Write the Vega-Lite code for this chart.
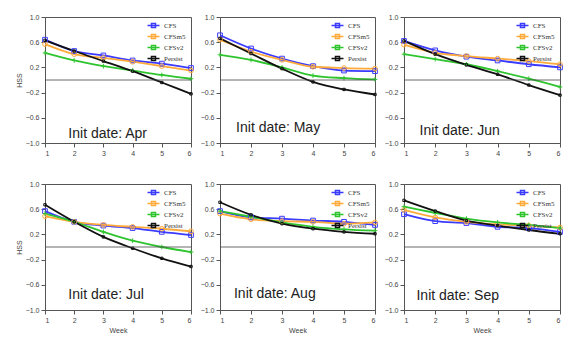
{
  "$schema": "https://vega.github.io/schema/vega-lite/v6.json",
  "padding": {"left": 14, "top": 12, "right": 5, "bottom": 5},
  "background": "white",
  "datasets": {
    "hss": [
      {"month":"Apr","model":"CFS","week":1,"hss":0.64},{"month":"Apr","model":"CFS","week":2,"hss":0.46},{"month":"Apr","model":"CFS","week":3,"hss":0.39},{"month":"Apr","model":"CFS","week":4,"hss":0.31},{"month":"Apr","model":"CFS","week":5,"hss":0.26},{"month":"Apr","model":"CFS","week":6,"hss":0.19},
      {"month":"Apr","model":"CFSm5","week":1,"hss":0.57},{"month":"Apr","model":"CFSm5","week":2,"hss":0.41},{"month":"Apr","model":"CFSm5","week":3,"hss":0.35},{"month":"Apr","model":"CFSm5","week":4,"hss":0.29},{"month":"Apr","model":"CFSm5","week":5,"hss":0.22},{"month":"Apr","model":"CFSm5","week":6,"hss":0.15},
      {"month":"Apr","model":"CFSv2","week":1,"hss":0.43},{"month":"Apr","model":"CFSv2","week":2,"hss":0.31},{"month":"Apr","model":"CFSv2","week":3,"hss":0.22},{"month":"Apr","model":"CFSv2","week":4,"hss":0.15},{"month":"Apr","model":"CFSv2","week":5,"hss":0.08},{"month":"Apr","model":"CFSv2","week":6,"hss":0.02},
      {"month":"Apr","model":"Persist","week":1,"hss":0.63},{"month":"Apr","model":"Persist","week":2,"hss":0.46},{"month":"Apr","model":"Persist","week":3,"hss":0.30},{"month":"Apr","model":"Persist","week":4,"hss":0.14},{"month":"Apr","model":"Persist","week":5,"hss":-0.04},{"month":"Apr","model":"Persist","week":6,"hss":-0.22},
      {"month":"May","model":"CFS","week":1,"hss":0.71},{"month":"May","model":"CFS","week":2,"hss":0.50},{"month":"May","model":"CFS","week":3,"hss":0.34},{"month":"May","model":"CFS","week":4,"hss":0.22},{"month":"May","model":"CFS","week":5,"hss":0.15},{"month":"May","model":"CFS","week":6,"hss":0.14},
      {"month":"May","model":"CFSm5","week":1,"hss":0.64},{"month":"May","model":"CFSm5","week":2,"hss":0.45},{"month":"May","model":"CFSm5","week":3,"hss":0.32},{"month":"May","model":"CFSm5","week":4,"hss":0.21},{"month":"May","model":"CFSm5","week":5,"hss":0.19},{"month":"May","model":"CFSm5","week":6,"hss":0.18},
      {"month":"May","model":"CFSv2","week":1,"hss":0.40},{"month":"May","model":"CFSv2","week":2,"hss":0.32},{"month":"May","model":"CFSv2","week":3,"hss":0.20},{"month":"May","model":"CFSv2","week":4,"hss":0.07},{"month":"May","model":"CFSv2","week":5,"hss":0.03},{"month":"May","model":"CFSv2","week":6,"hss":0.01},
      {"month":"May","model":"Persist","week":1,"hss":0.66},{"month":"May","model":"Persist","week":2,"hss":0.42},{"month":"May","model":"Persist","week":3,"hss":0.18},{"month":"May","model":"Persist","week":4,"hss":-0.03},{"month":"May","model":"Persist","week":5,"hss":-0.15},{"month":"May","model":"Persist","week":6,"hss":-0.23},
      {"month":"Jun","model":"CFS","week":1,"hss":0.62},{"month":"Jun","model":"CFS","week":2,"hss":0.47},{"month":"Jun","model":"CFS","week":3,"hss":0.37},{"month":"Jun","model":"CFS","week":4,"hss":0.31},{"month":"Jun","model":"CFS","week":5,"hss":0.25},{"month":"Jun","model":"CFS","week":6,"hss":0.20},
      {"month":"Jun","model":"CFSm5","week":1,"hss":0.56},{"month":"Jun","model":"CFSm5","week":2,"hss":0.43},{"month":"Jun","model":"CFSm5","week":3,"hss":0.38},{"month":"Jun","model":"CFSm5","week":4,"hss":0.34},{"month":"Jun","model":"CFSm5","week":5,"hss":0.30},{"month":"Jun","model":"CFSm5","week":6,"hss":0.25},
      {"month":"Jun","model":"CFSv2","week":1,"hss":0.41},{"month":"Jun","model":"CFSv2","week":2,"hss":0.33},{"month":"Jun","model":"CFSv2","week":3,"hss":0.25},{"month":"Jun","model":"CFSv2","week":4,"hss":0.14},{"month":"Jun","model":"CFSv2","week":5,"hss":0.02},{"month":"Jun","model":"CFSv2","week":6,"hss":-0.11},
      {"month":"Jun","model":"Persist","week":1,"hss":0.62},{"month":"Jun","model":"Persist","week":2,"hss":0.41},{"month":"Jun","model":"Persist","week":3,"hss":0.24},{"month":"Jun","model":"Persist","week":4,"hss":0.09},{"month":"Jun","model":"Persist","week":5,"hss":-0.08},{"month":"Jun","model":"Persist","week":6,"hss":-0.24},
      {"month":"Jul","model":"CFS","week":1,"hss":0.57},{"month":"Jul","model":"CFS","week":2,"hss":0.40},{"month":"Jul","model":"CFS","week":3,"hss":0.34},{"month":"Jul","model":"CFS","week":4,"hss":0.30},{"month":"Jul","model":"CFS","week":5,"hss":0.24},{"month":"Jul","model":"CFS","week":6,"hss":0.19},
      {"month":"Jul","model":"CFSm5","week":1,"hss":0.49},{"month":"Jul","model":"CFSm5","week":2,"hss":0.40},{"month":"Jul","model":"CFSm5","week":3,"hss":0.35},{"month":"Jul","model":"CFSm5","week":4,"hss":0.32},{"month":"Jul","model":"CFSm5","week":5,"hss":0.29},{"month":"Jul","model":"CFSm5","week":6,"hss":0.25},
      {"month":"Jul","model":"CFSv2","week":1,"hss":0.53},{"month":"Jul","model":"CFSv2","week":2,"hss":0.40},{"month":"Jul","model":"CFSv2","week":3,"hss":0.24},{"month":"Jul","model":"CFSv2","week":4,"hss":0.10},{"month":"Jul","model":"CFSv2","week":5,"hss":0.00},{"month":"Jul","model":"CFSv2","week":6,"hss":-0.08},
      {"month":"Jul","model":"Persist","week":1,"hss":0.67},{"month":"Jul","model":"Persist","week":2,"hss":0.40},{"month":"Jul","model":"Persist","week":3,"hss":0.16},{"month":"Jul","model":"Persist","week":4,"hss":-0.02},{"month":"Jul","model":"Persist","week":5,"hss":-0.18},{"month":"Jul","model":"Persist","week":6,"hss":-0.31},
      {"month":"Aug","model":"CFS","week":1,"hss":0.57},{"month":"Aug","model":"CFS","week":2,"hss":0.47},{"month":"Aug","model":"CFS","week":3,"hss":0.45},{"month":"Aug","model":"CFS","week":4,"hss":0.42},{"month":"Aug","model":"CFS","week":5,"hss":0.40},{"month":"Aug","model":"CFS","week":6,"hss":0.35},
      {"month":"Aug","model":"CFSm5","week":1,"hss":0.53},{"month":"Aug","model":"CFSm5","week":2,"hss":0.44},{"month":"Aug","model":"CFSm5","week":3,"hss":0.41},{"month":"Aug","model":"CFSm5","week":4,"hss":0.40},{"month":"Aug","model":"CFSm5","week":5,"hss":0.37},{"month":"Aug","model":"CFSm5","week":6,"hss":0.39},
      {"month":"Aug","model":"CFSv2","week":1,"hss":0.57},{"month":"Aug","model":"CFSv2","week":2,"hss":0.48},{"month":"Aug","model":"CFSv2","week":3,"hss":0.39},{"month":"Aug","model":"CFSv2","week":4,"hss":0.32},{"month":"Aug","model":"CFSv2","week":5,"hss":0.28},{"month":"Aug","model":"CFSv2","week":6,"hss":0.26},
      {"month":"Aug","model":"Persist","week":1,"hss":0.71},{"month":"Aug","model":"Persist","week":2,"hss":0.51},{"month":"Aug","model":"Persist","week":3,"hss":0.37},{"month":"Aug","model":"Persist","week":4,"hss":0.29},{"month":"Aug","model":"Persist","week":5,"hss":0.24},{"month":"Aug","model":"Persist","week":6,"hss":0.21},
      {"month":"Sep","model":"CFS","week":1,"hss":0.52},{"month":"Sep","model":"CFS","week":2,"hss":0.41},{"month":"Sep","model":"CFS","week":3,"hss":0.38},{"month":"Sep","model":"CFS","week":4,"hss":0.32},{"month":"Sep","model":"CFS","week":5,"hss":0.30},{"month":"Sep","model":"CFS","week":6,"hss":0.24},
      {"month":"Sep","model":"CFSm5","week":1,"hss":0.59},{"month":"Sep","model":"CFSm5","week":2,"hss":0.47},{"month":"Sep","model":"CFSm5","week":3,"hss":0.40},{"month":"Sep","model":"CFSm5","week":4,"hss":0.36},{"month":"Sep","model":"CFSm5","week":5,"hss":0.34},{"month":"Sep","model":"CFSm5","week":6,"hss":0.31},
      {"month":"Sep","model":"CFSv2","week":1,"hss":0.64},{"month":"Sep","model":"CFSv2","week":2,"hss":0.54},{"month":"Sep","model":"CFSv2","week":3,"hss":0.45},{"month":"Sep","model":"CFSv2","week":4,"hss":0.39},{"month":"Sep","model":"CFSv2","week":5,"hss":0.35},{"month":"Sep","model":"CFSv2","week":6,"hss":0.30},
      {"month":"Sep","model":"Persist","week":1,"hss":0.74},{"month":"Sep","model":"Persist","week":2,"hss":0.57},{"month":"Sep","model":"Persist","week":3,"hss":0.42},{"month":"Sep","model":"Persist","week":4,"hss":0.34},{"month":"Sep","model":"Persist","week":5,"hss":0.27},{"month":"Sep","model":"Persist","week":6,"hss":0.21}
    ]
  },
  "columns": 3,
  "align": "each",
  "spacing": {"row": 22, "column": 3},
  "resolve": {"legend": {"color": "independent"}},
  "concat": [
    {"width": 146, "height": 126, "layer": [
      {"data": {"name": "hss"}, "transform": [{"filter": {"field": "month", "equal": "Apr"}}], "mark": {"type": "line", "point": {"filled": false, "size": 22, "strokeWidth": 1}, "strokeWidth": 1.8, "interpolate": "monotone"},
       "encoding": {"x": {"field": "week", "type": "quantitative", "scale": {"domain": [1, 6], "nice": false}, "axis": {"values": [1, 2, 3, 4, 5, 6], "labelOverlap": false, "title": null}}, "y": {"field": "hss", "type": "quantitative", "scale": {"domain": [-1, 1], "nice": false}, "axis": {"values": [-1, -0.6, -0.2, 0.2, 0.6, 1], "format": ".1f", "labelOverlap": false, "title": "HSS"}}, "color": {"field": "model", "type": "nominal", "scale": {"domain": ["CFS", "CFSm5", "CFSv2", "Persist"], "range": ["#3b3bff", "#ffab3c", "#2ec42e", "#111111"]}, "legend": {"title": null, "symbolType": "M-3,0H3M-1,-1H1V1H-1Z"}}, "shape": {"field": "model", "type": "nominal", "scale": {"domain": ["CFS", "CFSm5", "CFSv2", "Persist"], "range": ["square", "circle", "M-1,0H1M0,-1V1", "M-0.5,-0.5H0.5V0.5H-0.5Z"]}, "legend": null}}},
      {"data": {"values": [{}]}, "mark": {"type": "rule", "color": "#444", "strokeWidth": 0.8}, "encoding": {"y": {"datum": 0, "type": "quantitative", "axis": {"values": [-1, -0.6, -0.2, 0.2, 0.6, 1], "format": ".1f", "labelOverlap": false, "title": "HSS"}}}},
      {"data": {"values": [{}]}, "mark": {"type": "text", "text": "Init date: Apr", "align": "left", "baseline": "middle", "fontSize": 14, "font": "Liberation Sans", "color": "#222"}, "encoding": {"x": {"datum": 1.8, "type": "quantitative", "axis": {"values": [1, 2, 3, 4, 5, 6], "labelOverlap": false, "title": null}}, "y": {"datum": -0.86, "type": "quantitative", "axis": {"values": [-1, -0.6, -0.2, 0.2, 0.6, 1], "format": ".1f", "labelOverlap": false, "title": "HSS"}}}}
    ]},
    {"width": 155, "height": 126, "layer": [
      {"data": {"name": "hss"}, "transform": [{"filter": {"field": "month", "equal": "May"}}], "mark": {"type": "line", "point": {"filled": false, "size": 22, "strokeWidth": 1}, "strokeWidth": 1.8, "interpolate": "monotone"},
       "encoding": {"x": {"field": "week", "type": "quantitative", "scale": {"domain": [1, 6], "nice": false}, "axis": {"values": [1, 2, 3, 4, 5, 6], "labelOverlap": false, "title": null}}, "y": {"field": "hss", "type": "quantitative", "scale": {"domain": [-1, 1], "nice": false}, "axis": {"values": [-1, -0.6, -0.2, 0.2, 0.6, 1], "format": ".1f", "labelOverlap": false, "title": null}}, "color": {"field": "model", "type": "nominal", "scale": {"domain": ["CFS", "CFSm5", "CFSv2", "Persist"], "range": ["#3b3bff", "#ffab3c", "#2ec42e", "#111111"]}, "legend": {"title": null, "symbolType": "M-3,0H3M-1,-1H1V1H-1Z"}}, "shape": {"field": "model", "type": "nominal", "scale": {"domain": ["CFS", "CFSm5", "CFSv2", "Persist"], "range": ["square", "circle", "M-1,0H1M0,-1V1", "M-0.5,-0.5H0.5V0.5H-0.5Z"]}, "legend": null}}},
      {"data": {"values": [{}]}, "mark": {"type": "rule", "color": "#444", "strokeWidth": 0.8}, "encoding": {"y": {"datum": 0, "type": "quantitative", "axis": {"values": [-1, -0.6, -0.2, 0.2, 0.6, 1], "format": ".1f", "labelOverlap": false, "title": null}}}},
      {"data": {"values": [{}]}, "mark": {"type": "text", "text": "Init date: May", "align": "left", "baseline": "middle", "fontSize": 14, "font": "Liberation Sans", "color": "#222"}, "encoding": {"x": {"datum": 1.52, "type": "quantitative", "axis": {"values": [1, 2, 3, 4, 5, 6], "labelOverlap": false, "title": null}}, "y": {"datum": -0.76, "type": "quantitative", "axis": {"values": [-1, -0.6, -0.2, 0.2, 0.6, 1], "format": ".1f", "labelOverlap": false, "title": null}}}}
    ]},
    {"width": 156, "height": 126, "layer": [
      {"data": {"name": "hss"}, "transform": [{"filter": {"field": "month", "equal": "Jun"}}], "mark": {"type": "line", "point": {"filled": false, "size": 22, "strokeWidth": 1}, "strokeWidth": 1.8, "interpolate": "monotone"},
       "encoding": {"x": {"field": "week", "type": "quantitative", "scale": {"domain": [1, 6], "nice": false}, "axis": {"values": [1, 2, 3, 4, 5, 6], "labelOverlap": false, "title": null}}, "y": {"field": "hss", "type": "quantitative", "scale": {"domain": [-1, 1], "nice": false}, "axis": {"values": [-1, -0.6, -0.2, 0.2, 0.6, 1], "format": ".1f", "labelOverlap": false, "title": null}}, "color": {"field": "model", "type": "nominal", "scale": {"domain": ["CFS", "CFSm5", "CFSv2", "Persist"], "range": ["#3b3bff", "#ffab3c", "#2ec42e", "#111111"]}, "legend": {"title": null, "symbolType": "M-3,0H3M-1,-1H1V1H-1Z"}}, "shape": {"field": "model", "type": "nominal", "scale": {"domain": ["CFS", "CFSm5", "CFSv2", "Persist"], "range": ["square", "circle", "M-1,0H1M0,-1V1", "M-0.5,-0.5H0.5V0.5H-0.5Z"]}, "legend": null}}},
      {"data": {"values": [{}]}, "mark": {"type": "rule", "color": "#444", "strokeWidth": 0.8}, "encoding": {"y": {"datum": 0, "type": "quantitative", "axis": {"values": [-1, -0.6, -0.2, 0.2, 0.6, 1], "format": ".1f", "labelOverlap": false, "title": null}}}},
      {"data": {"values": [{}]}, "mark": {"type": "text", "text": "Init date: Jun", "align": "left", "baseline": "middle", "fontSize": 14, "font": "Liberation Sans", "color": "#222"}, "encoding": {"x": {"datum": 1.5, "type": "quantitative", "axis": {"values": [1, 2, 3, 4, 5, 6], "labelOverlap": false, "title": null}}, "y": {"datum": -0.81, "type": "quantitative", "axis": {"values": [-1, -0.6, -0.2, 0.2, 0.6, 1], "format": ".1f", "labelOverlap": false, "title": null}}}}
    ]},
    {"width": 146, "height": 126, "layer": [
      {"data": {"name": "hss"}, "transform": [{"filter": {"field": "month", "equal": "Jul"}}], "mark": {"type": "line", "point": {"filled": false, "size": 22, "strokeWidth": 1}, "strokeWidth": 1.8, "interpolate": "monotone"},
       "encoding": {"x": {"field": "week", "type": "quantitative", "scale": {"domain": [1, 6], "nice": false}, "axis": {"values": [1, 2, 3, 4, 5, 6], "labelOverlap": false, "title": "Week"}}, "y": {"field": "hss", "type": "quantitative", "scale": {"domain": [-1, 1], "nice": false}, "axis": {"values": [-1, -0.6, -0.2, 0.2, 0.6, 1], "format": ".1f", "labelOverlap": false, "title": "HSS"}}, "color": {"field": "model", "type": "nominal", "scale": {"domain": ["CFS", "CFSm5", "CFSv2", "Persist"], "range": ["#3b3bff", "#ffab3c", "#2ec42e", "#111111"]}, "legend": {"title": null, "symbolType": "M-3,0H3M-1,-1H1V1H-1Z"}}, "shape": {"field": "model", "type": "nominal", "scale": {"domain": ["CFS", "CFSm5", "CFSv2", "Persist"], "range": ["square", "circle", "M-1,0H1M0,-1V1", "M-0.5,-0.5H0.5V0.5H-0.5Z"]}, "legend": null}}},
      {"data": {"values": [{}]}, "mark": {"type": "rule", "color": "#444", "strokeWidth": 0.8}, "encoding": {"y": {"datum": 0, "type": "quantitative", "axis": {"values": [-1, -0.6, -0.2, 0.2, 0.6, 1], "format": ".1f", "labelOverlap": false, "title": "HSS"}}}},
      {"data": {"values": [{}]}, "mark": {"type": "text", "text": "Init date: Jul", "align": "left", "baseline": "middle", "fontSize": 14, "font": "Liberation Sans", "color": "#222"}, "encoding": {"x": {"datum": 1.8, "type": "quantitative", "axis": {"values": [1, 2, 3, 4, 5, 6], "labelOverlap": false, "title": "Week"}}, "y": {"datum": -0.76, "type": "quantitative", "axis": {"values": [-1, -0.6, -0.2, 0.2, 0.6, 1], "format": ".1f", "labelOverlap": false, "title": "HSS"}}}}
    ]},
    {"width": 155, "height": 126, "layer": [
      {"data": {"name": "hss"}, "transform": [{"filter": {"field": "month", "equal": "Aug"}}], "mark": {"type": "line", "point": {"filled": false, "size": 22, "strokeWidth": 1}, "strokeWidth": 1.8, "interpolate": "monotone"},
       "encoding": {"x": {"field": "week", "type": "quantitative", "scale": {"domain": [1, 6], "nice": false}, "axis": {"values": [1, 2, 3, 4, 5, 6], "labelOverlap": false, "title": "Week"}}, "y": {"field": "hss", "type": "quantitative", "scale": {"domain": [-1, 1], "nice": false}, "axis": {"values": [-1, -0.6, -0.2, 0.2, 0.6, 1], "format": ".1f", "labelOverlap": false, "title": null}}, "color": {"field": "model", "type": "nominal", "scale": {"domain": ["CFS", "CFSm5", "CFSv2", "Persist"], "range": ["#3b3bff", "#ffab3c", "#2ec42e", "#111111"]}, "legend": {"title": null, "symbolType": "M-3,0H3M-1,-1H1V1H-1Z"}}, "shape": {"field": "model", "type": "nominal", "scale": {"domain": ["CFS", "CFSm5", "CFSv2", "Persist"], "range": ["square", "circle", "M-1,0H1M0,-1V1", "M-0.5,-0.5H0.5V0.5H-0.5Z"]}, "legend": null}}},
      {"data": {"values": [{}]}, "mark": {"type": "rule", "color": "#444", "strokeWidth": 0.8}, "encoding": {"y": {"datum": 0, "type": "quantitative", "axis": {"values": [-1, -0.6, -0.2, 0.2, 0.6, 1], "format": ".1f", "labelOverlap": false, "title": null}}}},
      {"data": {"values": [{}]}, "mark": {"type": "text", "text": "Init date: Aug", "align": "left", "baseline": "middle", "fontSize": 14, "font": "Liberation Sans", "color": "#222"}, "encoding": {"x": {"datum": 1.45, "type": "quantitative", "axis": {"values": [1, 2, 3, 4, 5, 6], "labelOverlap": false, "title": "Week"}}, "y": {"datum": -0.75, "type": "quantitative", "axis": {"values": [-1, -0.6, -0.2, 0.2, 0.6, 1], "format": ".1f", "labelOverlap": false, "title": null}}}}
    ]},
    {"width": 156, "height": 126, "layer": [
      {"data": {"name": "hss"}, "transform": [{"filter": {"field": "month", "equal": "Sep"}}], "mark": {"type": "line", "point": {"filled": false, "size": 22, "strokeWidth": 1}, "strokeWidth": 1.8, "interpolate": "monotone"},
       "encoding": {"x": {"field": "week", "type": "quantitative", "scale": {"domain": [1, 6], "nice": false}, "axis": {"values": [1, 2, 3, 4, 5, 6], "labelOverlap": false, "title": "Week"}}, "y": {"field": "hss", "type": "quantitative", "scale": {"domain": [-1, 1], "nice": false}, "axis": {"values": [-1, -0.6, -0.2, 0.2, 0.6, 1], "format": ".1f", "labelOverlap": false, "title": null}}, "color": {"field": "model", "type": "nominal", "scale": {"domain": ["CFS", "CFSm5", "CFSv2", "Persist"], "range": ["#3b3bff", "#ffab3c", "#2ec42e", "#111111"]}, "legend": {"title": null, "symbolType": "M-3,0H3M-1,-1H1V1H-1Z"}}, "shape": {"field": "model", "type": "nominal", "scale": {"domain": ["CFS", "CFSm5", "CFSv2", "Persist"], "range": ["square", "circle", "M-1,0H1M0,-1V1", "M-0.5,-0.5H0.5V0.5H-0.5Z"]}, "legend": null}}},
      {"data": {"values": [{}]}, "mark": {"type": "rule", "color": "#444", "strokeWidth": 0.8}, "encoding": {"y": {"datum": 0, "type": "quantitative", "axis": {"values": [-1, -0.6, -0.2, 0.2, 0.6, 1], "format": ".1f", "labelOverlap": false, "title": null}}}},
      {"data": {"values": [{}]}, "mark": {"type": "text", "text": "Init date: Sep", "align": "left", "baseline": "middle", "fontSize": 14, "font": "Liberation Sans", "color": "#222"}, "encoding": {"x": {"datum": 1.4, "type": "quantitative", "axis": {"values": [1, 2, 3, 4, 5, 6], "labelOverlap": false, "title": "Week"}}, "y": {"datum": -0.78, "type": "quantitative", "axis": {"values": [-1, -0.6, -0.2, 0.2, 0.6, 1], "format": ".1f", "labelOverlap": false, "title": null}}}}
    ]}
  ],
  "config": {
    "view": {"stroke": "#555", "strokeWidth": 1},
    "axis": {"grid": false, "labelFont": "Liberation Sans", "labelFontSize": 7, "labelColor": "#444", "labelOverlap": false, "titleFont": "Liberation Sans", "titleFontSize": 7, "titleFontWeight": "normal", "titleColor": "#444", "tickSize": 4, "tickColor": "#555", "domainColor": "#555", "labelPadding": 2, "titlePadding": 3},
    "legend": {"orient": "top-right", "offset": 5, "labelFont": "Liberation Serif", "labelFontSize": 7, "labelColor": "#333", "symbolSize": 16, "symbolStrokeWidth": 1.5, "rowPadding": 0, "padding": 0, "labelOffset": 7, "symbolFillColor": "transparent"}
  }
}
